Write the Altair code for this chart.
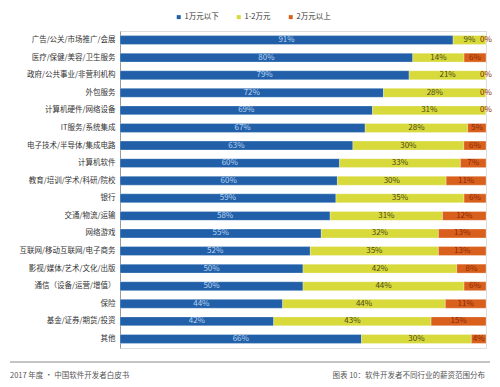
import altair as alt
import pandas as pd

categories = [
    "广告/公关/市场推广/会展",
    "医疗/保健/美容/卫生服务",
    "政府/公共事业/非营利机构",
    "外包服务",
    "计算机硬件/网络设备",
    "IT服务/系统集成",
    "电子技术/半导体/集成电路",
    "计算机软件",
    "教育/培训/学术/科研/院校",
    "银行",
    "交通/物流/运输",
    "网络游戏",
    "互联网/移动互联网/电子商务",
    "影视/媒体/艺术/文化/出版",
    "通信（设备/运营/增值）",
    "保险",
    "基金/证券/期货/投资",
    "其他",
]
below_10k = [91, 80, 79, 72, 69, 67, 63, 60, 60, 59, 58, 55, 52, 50, 50, 44, 42, 66]
from_10k_20k = [9, 14, 21, 28, 31, 28, 30, 33, 30, 35, 31, 32, 35, 42, 44, 44, 43, 30]
above_20k = [0, 6, 0, 0, 0, 5, 6, 7, 11, 6, 12, 13, 13, 8, 6, 11, 15, 4]

series_names = ["1万元以下", "1-2万元", "2万元以上"]
bar_colors = ["#2160a8", "#d8d93a", "#d9601c"]
label_colors = ["#b9d2f0", "#4a4a1a", "#8a2a08"]
legend_colors = ["#2f5597", "#a9c94a", "#c8642a"]

footer_left = "2017 年度 · 中国软件开发者白皮书"
footer_right = "图表 10：软件开发者不同行业的薪资范围分布"

FONT = "Noto Sans CJK SC"

rows = []
for i, c in enumerate(categories):
    for k, vals in enumerate([below_10k, from_10k_20k, above_20k]):
        rows.append({"cat": c, "series": series_names[k], "order": k,
                     "value": vals[i], "label": f"{vals[i]}%"})
df = pd.DataFrame(rows)

W, H = 366, 317

base = (
    alt.Chart(df)
    .transform_joinaggregate(total="sum(value)", groupby=["cat"])
    .transform_calculate(pct="datum.value / datum.total")
    .transform_window(end="sum(pct)", groupby=["cat"],
                      sort=[alt.SortField("order")], frame=[None, 0])
    .transform_calculate(start="datum.end - datum.pct",
                         mid="datum.end - datum.pct / 2")
)

y_enc = alt.Y(
    "cat:N", sort=categories, title=None,
    scale=alt.Scale(paddingInner=0.49, paddingOuter=0.26),
    axis=alt.Axis(ticks=False, labelFontSize=7.5, labelColor="#333333",
                  labelFont=FONT, domainColor="#9a9a9a", labelPadding=5,
                  grid=False),
)

bars = base.mark_bar(stroke="#ffffff", strokeWidth=0.3).encode(
    y=y_enc,
    x=alt.X("start:Q", scale=alt.Scale(domain=[0, 1]), axis=None),
    x2="end:Q",
    color=alt.Color(
        "series:N",
        scale=alt.Scale(domain=series_names, range=bar_colors),
        legend=alt.Legend(orient="none", legendX=55, legendY=-18,
                          direction="horizontal", title=None,
                          symbolType="square", symbolSize=16,
                          labelOffset=2,
                          labelFontSize=7.5, labelFont=FONT,
                          labelColor="#333333", columnPadding=16,
                          symbolStrokeWidth=0),
    ),
    order=alt.Order("order:Q"),
)

texts = base.mark_text(fontSize=8, font=FONT, baseline="middle").encode(
    y=alt.Y("cat:N", sort=categories),
    x=alt.X("mid:Q"),
    text="label:N",
    color=alt.Color("series:N",
                    scale=alt.Scale(domain=series_names, range=label_colors),
                    legend=None),
)

footer_l = alt.Chart(pd.DataFrame({"t": [footer_left]})).mark_text(
    align="left", fontSize=7.5, font=FONT, color="#555555", baseline="middle"
).encode(text="t:N", x=alt.value(-110), y=alt.value(345))
footer_r = alt.Chart(pd.DataFrame({"t": [footer_right]})).mark_text(
    align="right", fontSize=7.5, font=FONT, color="#555555", baseline="middle"
).encode(text="t:N", x=alt.value(365), y=alt.value(345))
rule = alt.Chart(pd.DataFrame({"a": [0]})).mark_rule(
    color="#8a8a8a", strokeWidth=1
).encode(x=alt.value(-110), x2=alt.value(370), y=alt.value(331))

chart = (
    alt.layer(bars, texts, rule, footer_l, footer_r)
    .resolve_scale(color="independent")
    .properties(width=W, height=H,
                autosize=alt.AutoSizeParams(type="none"),
                padding={"left": 112, "top": 23, "right": 6, "bottom": 31})
    .configure_view(stroke=None)
    .configure(background="#ffffff")
)

chart.save("out.html", embed_options={"renderer": "svg", "actions": False})
